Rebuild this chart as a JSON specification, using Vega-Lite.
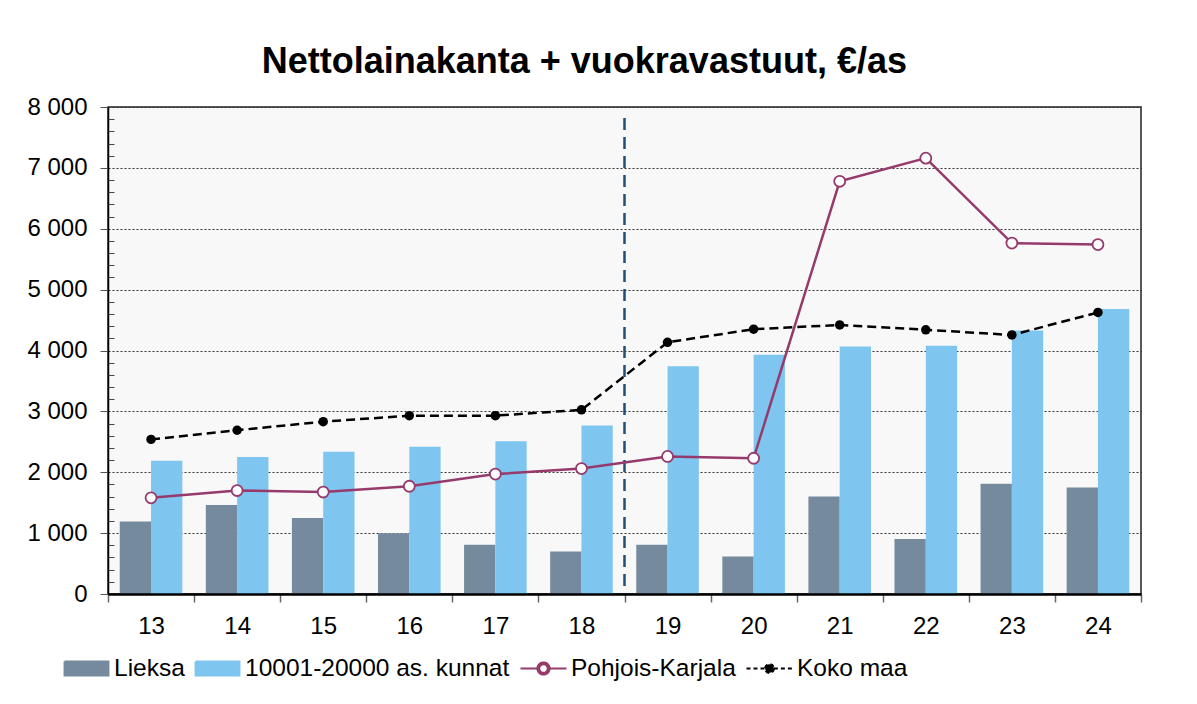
{
  "$schema": "https://vega.github.io/schema/vega-lite/v6.json",
  "width": 1033,
  "height": 487,
  "autosize": "none",
  "padding": {"left": 108, "top": 107, "right": 56, "bottom": 110},
  "background": "white",
  "title": {"text": "Nettolainakanta + vuokravastuut, €/as", "font": "Liberation Sans", "fontSize": 36, "fontWeight": "bold", "color": "black", "anchor": "middle", "frame": "bounds", "offset": 14},
  "config": {"view": {"fill": "#f8f8f8", "stroke": "#222", "strokeWidth": 1.5}, "font": "Liberation Sans"},
  "data": {"values": [
    {"year": "13", "series": "Lieksa", "value": 1190},
    {"year": "14", "series": "Lieksa", "value": 1460},
    {"year": "15", "series": "Lieksa", "value": 1250},
    {"year": "16", "series": "Lieksa", "value": 1000},
    {"year": "17", "series": "Lieksa", "value": 810},
    {"year": "18", "series": "Lieksa", "value": 700},
    {"year": "19", "series": "Lieksa", "value": 810},
    {"year": "20", "series": "Lieksa", "value": 615},
    {"year": "21", "series": "Lieksa", "value": 1600},
    {"year": "22", "series": "Lieksa", "value": 905},
    {"year": "23", "series": "Lieksa", "value": 1810},
    {"year": "24", "series": "Lieksa", "value": 1750},
    {"year": "13", "series": "10001-20000 as. kunnat", "value": 2190},
    {"year": "14", "series": "10001-20000 as. kunnat", "value": 2250},
    {"year": "15", "series": "10001-20000 as. kunnat", "value": 2335},
    {"year": "16", "series": "10001-20000 as. kunnat", "value": 2420},
    {"year": "17", "series": "10001-20000 as. kunnat", "value": 2510},
    {"year": "18", "series": "10001-20000 as. kunnat", "value": 2770},
    {"year": "19", "series": "10001-20000 as. kunnat", "value": 3740},
    {"year": "20", "series": "10001-20000 as. kunnat", "value": 3930},
    {"year": "21", "series": "10001-20000 as. kunnat", "value": 4065},
    {"year": "22", "series": "10001-20000 as. kunnat", "value": 4080},
    {"year": "23", "series": "10001-20000 as. kunnat", "value": 4330},
    {"year": "24", "series": "10001-20000 as. kunnat", "value": 4680},
    {"year": "13", "series": "Pohjois-Karjala", "value": 1580},
    {"year": "14", "series": "Pohjois-Karjala", "value": 1700},
    {"year": "15", "series": "Pohjois-Karjala", "value": 1675},
    {"year": "16", "series": "Pohjois-Karjala", "value": 1770},
    {"year": "17", "series": "Pohjois-Karjala", "value": 1970},
    {"year": "18", "series": "Pohjois-Karjala", "value": 2060},
    {"year": "19", "series": "Pohjois-Karjala", "value": 2260},
    {"year": "20", "series": "Pohjois-Karjala", "value": 2230},
    {"year": "21", "series": "Pohjois-Karjala", "value": 6780},
    {"year": "22", "series": "Pohjois-Karjala", "value": 7160},
    {"year": "23", "series": "Pohjois-Karjala", "value": 5765},
    {"year": "24", "series": "Pohjois-Karjala", "value": 5740},
    {"year": "13", "series": "Koko maa", "value": 2540},
    {"year": "14", "series": "Koko maa", "value": 2690},
    {"year": "15", "series": "Koko maa", "value": 2830},
    {"year": "16", "series": "Koko maa", "value": 2930},
    {"year": "17", "series": "Koko maa", "value": 2930},
    {"year": "18", "series": "Koko maa", "value": 3025},
    {"year": "19", "series": "Koko maa", "value": 4135},
    {"year": "20", "series": "Koko maa", "value": 4350},
    {"year": "21", "series": "Koko maa", "value": 4420},
    {"year": "22", "series": "Koko maa", "value": 4340},
    {"year": "23", "series": "Koko maa", "value": 4255},
    {"year": "24", "series": "Koko maa", "value": 4625}
  ]},
  "encoding": {
    "x": {
      "field": "year", "type": "ordinal",
      "scale": {"paddingInner": 0, "paddingOuter": 0},
      "axis": {"title": null, "labelAngle": 0, "labelFontSize": 24, "labelColor": "black", "labelFont": "Liberation Sans", "labelPadding": 12, "tickBand": "extent", "tickSize": 8, "tickColor": "#666", "tickWidth": 1.5, "domainColor": "black", "domainWidth": 2.5, "zindex": 1, "grid": false}
    }
  },
  "layer": [
    {
      "transform": [{"filter": {"field": "series", "oneOf": ["Lieksa", "10001-20000 as. kunnat"]}}],
      "mark": {"type": "bar"},
      "encoding": {
        "xOffset": {"field": "series", "type": "nominal", "scale": {"domain": ["Lieksa", "10001-20000 as. kunnat"], "paddingInner": 0, "paddingOuter": 0.375}},
        "y": {
          "field": "value", "type": "quantitative",
          "scale": {"domain": [0, 8000], "nice": false},
          "axis": {"orient": "left", "title": null, "values": [0, 1000, 2000, 3000, 4000, 5000, 6000, 7000, 8000], "labelExpr": "replace(format(datum.value, ','), ',', ' ')", "labelFontSize": 24, "labelColor": "black", "labelFont": "Liberation Sans", "labelPadding": 13, "tickSize": 8, "tickColor": "#555", "domainColor": "black", "domainWidth": 1.5, "grid": true, "gridColor": "#333", "gridDash": [2, 2], "gridWidth": 1}
        },
        "color": {
          "field": "series", "type": "nominal",
          "scale": {"domain": ["Lieksa", "10001-20000 as. kunnat", "Pohjois-Karjala", "Koko maa"], "range": ["#768a9e", "#7ec5ef", "#953a6b", "#000000"]},
          "legend": {
            "orient": "none", "legendX": -46, "legendY": 537, "direction": "horizontal", "title": null,
            "labelFontSize": 24.5, "labelColor": "black", "labelFont": "Liberation Sans", "labelLimit": 500, "symbolSize": 2116, "labelOffset": 3, "columnPadding": 6, "padding": 0,
            "encode": {
              "symbols": {
                "update": {
                  "shape": [
                    {"test": "datum.value === 'Lieksa' || datum.value === '10001-20000 as. kunnat'", "value": "M-0.95,-0.3H0.95V0.3H-0.95Z"},
                    {"test": "datum.value === 'Pohjois-Karjala'", "value": "M-1,0H-0.26M0.26,0H1M0.26,0A0.26,0.26 0 1,1 -0.26,0A0.26,0.26 0 1,1 0.26,0ZM0.19,0A0.19,0.19 0 1,0 -0.19,0A0.19,0.19 0 1,0 0.19,0Z"},
                    {"value": "M-1,0H-0.19M0.19,0H1M0.19,0A0.19,0.19 0 1,1 -0.19,0A0.19,0.19 0 1,1 0.19,0Z"}
                  ],
                  "strokeDash": [{"test": "datum.value === 'Koko maa'", "value": [4, 3]}, {"value": [1, 0]}],
                  "strokeWidth": {"value": 2.2},
                  "fillOpacity": {"value": 1}
                }
              }
            }
          }
        }
      }
    },
    {
      "data": {"values": [{"year": "18"}]},
      "mark": {"type": "rule", "color": "#1f4e79", "strokeWidth": 2.5, "strokeDash": [12, 7]},
      "encoding": {
        "x": {
          "field": "year", "type": "ordinal", "bandPosition": 1,
          "scale": {"paddingInner": 0, "paddingOuter": 0},
          "axis": {"title": null, "labelAngle": 0, "labelFontSize": 24, "labelColor": "black", "labelFont": "Liberation Sans", "labelPadding": 12, "tickBand": "extent", "tickSize": 8, "tickColor": "#666", "tickWidth": 1.5, "domainColor": "black", "domainWidth": 2.5, "zindex": 1, "grid": false}
        },
        "y": {"datum": 7820, "type": "quantitative", "axis": null},
        "y2": {"datum": 0}
      }
    },
    {
      "transform": [{"filter": {"field": "series", "equal": "Pohjois-Karjala"}}],
      "mark": {"type": "line", "strokeWidth": 2.5},
      "encoding": {
        "y": {"field": "value", "type": "quantitative", "axis": {"orient": "left", "values": [200,400,600,800,1200,1400,1600,1800,2200,2400,2600,2800,3200,3400,3600,3800,4200,4400,4600,4800,5200,5400,5600,5800,6200,6400,6600,6800,7200,7400,7600,7800], "labels": false, "domain": false, "grid": false, "title": null, "tickSize": -6, "tickColor": "#444", "tickWidth": 1}},
        "color": {"field": "series", "type": "nominal", "legend": null}
      }
    },
    {
      "transform": [{"filter": {"field": "series", "equal": "Koko maa"}}],
      "mark": {"type": "line", "strokeWidth": 2.5, "strokeDash": [9, 5]},
      "encoding": {
        "y": {"field": "value", "type": "quantitative", "axis": null},
        "color": {"field": "series", "type": "nominal", "legend": null}
      }
    },
    {
      "transform": [{"filter": {"field": "series", "equal": "Pohjois-Karjala"}}],
      "mark": {"type": "point", "shape": "circle", "filled": false, "size": 120, "strokeWidth": 1.8, "opacity": 1},
      "encoding": {
        "y": {"field": "value", "type": "quantitative", "axis": null},
        "color": {"field": "series", "type": "nominal", "legend": null},
        "fill": {"value": "#ffffff"}
      }
    },
    {
      "transform": [{"filter": {"field": "series", "equal": "Koko maa"}}],
      "mark": {"type": "circle", "size": 90, "opacity": 1},
      "encoding": {
        "y": {"field": "value", "type": "quantitative", "axis": null},
        "color": {"field": "series", "type": "nominal", "legend": null}
      }
    }
  ],
  "resolve": {"axis": {"y": "independent"}}
}
